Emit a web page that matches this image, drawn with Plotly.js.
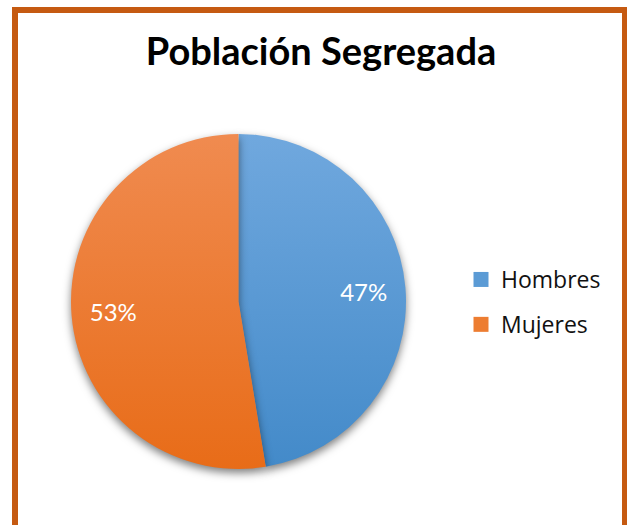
<!DOCTYPE html>
<html>
<head>
<meta charset="utf-8">
<script src="https://cdn.plot.ly/plotly-3.0.1.min.js"></script>
<style>
html,body{margin:0;padding:0;background:#fff;}
#chart{width:627px;height:525px;}
.pielayer .trace:first-child path.surface{filter:drop-shadow(0px 4px 4px rgba(0,0,0,0.5));}
</style>
</head>
<body>
<div id="chart"></div>
<script>
const categories = ["Hombres", "Mujeres"];
const values = [47.4, 52.6];
const colors = ["#5b9bd5", "#ed7d31"];
const gradTop = ["#70a8de", "#f08b50"];
const gradBottom = ["#438ac9", "#e86c18"];
const titleText = "Población Segregada";

const W = 627, H = 525;
const dom = {x: [71/W, 406/W], y: [(H-469)/H, (H-134)/H]};

const pie = {
  type: "pie", labels: categories, values: values, sort: false,
  direction: "clockwise", rotation: 0,
  marker: {colors: colors, line: {width: 0}},
  textinfo: "none", domain: dom, hoverinfo: "none", showlegend: false
};
const labelRing = {
  type: "pie", labels: categories, values: values, sort: false,
  direction: "clockwise", rotation: 0, hole: 0.5,
  marker: {colors: ["rgba(0,0,0,0)", "rgba(0,0,0,0)"], line: {width: 0}},
  texttemplate: "%{percent:.0%}", textposition: "inside", insidetextorientation: "horizontal",
  textfont: {family: "Lato", size: 24, color: "#ffffff", weight: 400},
  domain: dom, hoverinfo: "none", showlegend: false
};
const legendTraces = categories.map((c, i) => ({
  type: "scatter", mode: "markers", x: [null], y: [null], name: c,
  legendgroup: c, showlegend: true,
  marker: {symbol: "square", size: 15, color: colors[i]}
}));

const layout = {
  width: W, height: H,
  margin: {l: 0, r: 0, t: 0, b: 0},
  paper_bgcolor: "#ffffff", plot_bgcolor: "rgba(0,0,0,0)",
  xaxis: {visible: false}, yaxis: {visible: false},
  title: {text: "<b>" + titleText + "</b>", font: {family: "Lato", size: 38, color: "#000000"},
    x: 0.512, xanchor: "center", y: (H-52)/H, yanchor: "middle"},
  showlegend: true,
  legend: {x: 461/W, xanchor: "left", y: (H-302)/H, yanchor: "middle",
    font: {family: "Open Sans", size: 23, color: "#111111"},
    traceorder: "grouped", tracegroupgap: 12, itemsizing: "trace",
    itemwidth: 30, bgcolor: "rgba(0,0,0,0)"},
  shapes: [{type: "rect", xref: "paper", yref: "paper",
    x0: 15/W, x1: 625/W, y0: -20/H, y1: (H-10)/H,
    line: {color: "#c55a11", width: 6}, fillcolor: "rgba(0,0,0,0)", layer: "below"}]
};
Plotly.newPlot("chart", [pie, labelRing].concat(legendTraces), layout,
  {displayModeBar: false, staticPlot: true}).then(function(gd) {
  const svg = gd.querySelector(".main-svg");
  const ns = "http://www.w3.org/2000/svg";
  let defs = svg.querySelector("defs");
  if (!defs) { defs = document.createElementNS(ns, "defs"); svg.insertBefore(defs, svg.firstChild); }
  const pieTop = 134, pieBot = 469;
  categories.forEach(function(c, i) {
    const g = document.createElementNS(ns, "linearGradient");
    g.setAttribute("id", "sliceGrad" + i);
    g.setAttribute("gradientUnits", "userSpaceOnUse");
    g.setAttribute("x1", "0"); g.setAttribute("x2", "0");
    g.setAttribute("y1", String(pieTop)); g.setAttribute("y2", String(pieBot));
    [[0, gradTop[i]], [1, gradBottom[i]]].forEach(function(s) {
      const st = document.createElementNS(ns, "stop");
      st.setAttribute("offset", String(s[0]));
      st.setAttribute("stop-color", s[1]);
      g.appendChild(st);
    });
    defs.appendChild(g);
  });
  const firstTrace = gd.querySelector(".pielayer .trace");
  if (firstTrace) {
    firstTrace.querySelectorAll("path.surface").forEach(function(p, i) {
      p.style.fill = "url(#sliceGrad" + i + ")";
    });
  }
});
</script>
</body>
</html>
